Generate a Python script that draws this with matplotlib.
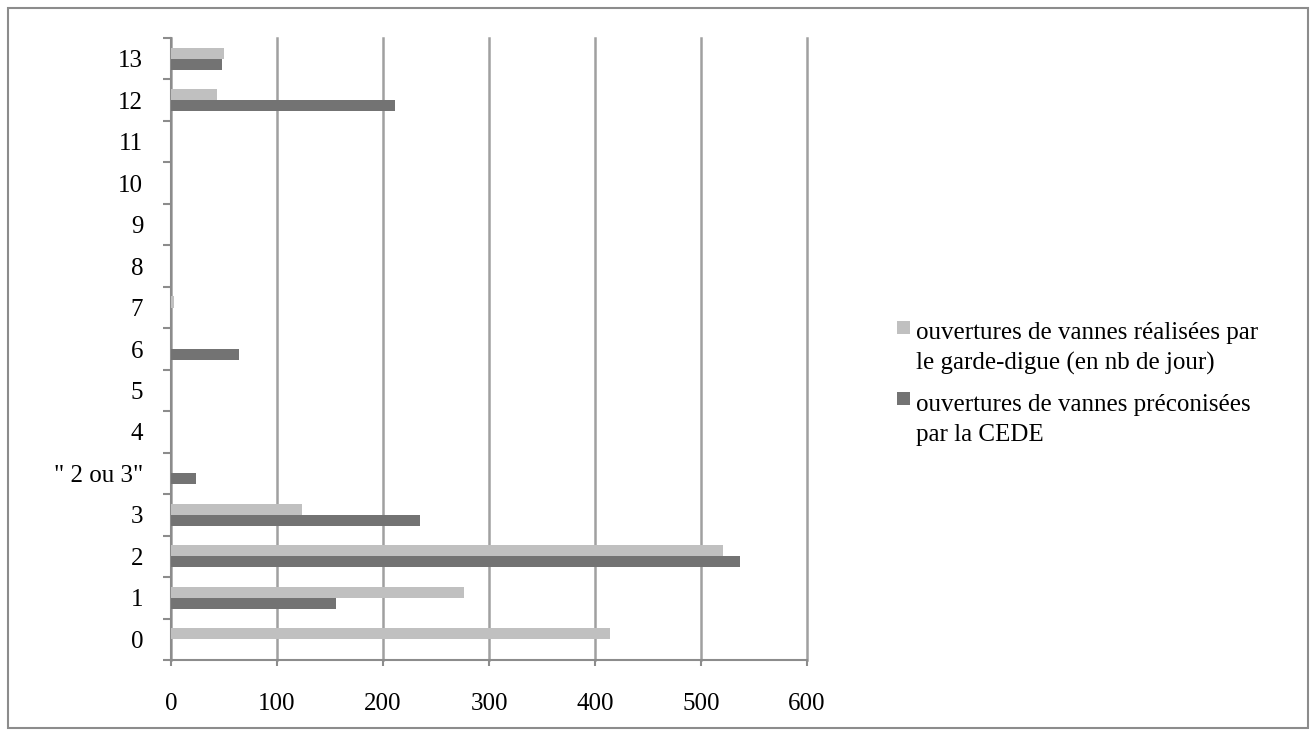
import numpy as np
import matplotlib.pyplot as plt
from matplotlib.patches import Rectangle
from matplotlib.container import BarContainer
from matplotlib.legend_handler import HandlerPatch

categories = ["0", "1", "2", "3", "\" 2 ou 3\"", "4", "5", "6", "7", "8", "9", "10", "11", "12", "13"]
realisees = [414, 276, 521, 124, 0, 0, 0, 0, 3, 0, 0, 0, 0, 43, 50]
preconisees = [0, 156, 537, 235, 24, 0, 0, 64, 0, 0, 0, 0, 0, 211, 48]
xticks = [0, 100, 200, 300, 400, 500, 600]

label_real = "ouvertures de vannes réalisées par\nle garde-digue (en nb de jour)"
label_prec = "ouvertures de vannes préconisées\npar la CEDE"

plt.rcParams['font.family'] = ['Liberation Serif', 'DejaVu Serif']
FS = 18
GREY = "#8c8c8c"

fig = plt.figure(figsize=(13.16, 7.36), dpi=100)
ax = fig.add_axes([171 / 1316, 1 - 660 / 736, (807 - 171) / 1316, (660 - 38) / 736])

# figure frame
fig.patches.append(Rectangle((8 / 1316, 8 / 736), 1300 / 1316, 720 / 736,
                             transform=fig.transFigure, fill=False,
                             edgecolor=GREY, linewidth=1.5))

y = np.arange(len(categories))
h = 0.267
ax.barh(y + h / 2, realisees, height=h, color="#c0c0c0", label=label_real, zorder=3)
ax.barh(y - h / 2, preconisees, height=h, color="#737373", label=label_prec, zorder=3)

ax.set_xlim(0, 600)
ax.set_ylim(-0.5, len(categories) - 0.5)
ax.set_xticks(xticks)
ax.set_xticklabels([str(v) for v in xticks], fontsize=FS)
ax.set_yticks(y)
ax.set_yticklabels(categories, fontsize=FS)
ax.set_yticks(np.arange(len(categories) + 1) - 0.5, minor=True)
ax.tick_params(axis="y", which="major", length=0, pad=20)
ax.tick_params(axis="y", which="minor", length=6, color=GREY, width=1.5)
ax.tick_params(axis="x", length=4, color=GREY, width=1.5, pad=20)

for s in ["top", "right"]:
    ax.spines[s].set_visible(False)
for s in ["left", "bottom"]:
    ax.spines[s].set_color(GREY)
    ax.spines[s].set_linewidth(1.5)

ax.grid(axis="x", color="#a0a0a0", linewidth=1.8, zorder=0)
ax.set_axisbelow(True)
for gl in ax.get_xgridlines():
    gl.set_clip_on(False)


# legend marker sits next to the first line of the label
def top_square(legend, orig_handle, xdescent, ydescent, width, height, fontsize):
    side = 0.52 * fontsize
    return Rectangle((-xdescent, -ydescent + height / 2 - side / 2 + 0.85 * fontsize), side, side)


def from_first_bar(handle, orig):
    handle.update_from(orig.patches[0])


leg = ax.legend(loc="center left", bbox_to_anchor=(874 / 1316, 1 - 384 / 736), bbox_transform=fig.transFigure,
                frameon=False, fontsize=FS, handlelength=0.55, handleheight=0.5,
                handletextpad=0.25, labelspacing=0.75,
                handler_map={BarContainer: HandlerPatch(patch_func=top_square,
                                                        update_func=from_first_bar)})
for t in leg.get_texts():
    t.set_linespacing(1.45)

fig.savefig("out.png", dpi=100)
